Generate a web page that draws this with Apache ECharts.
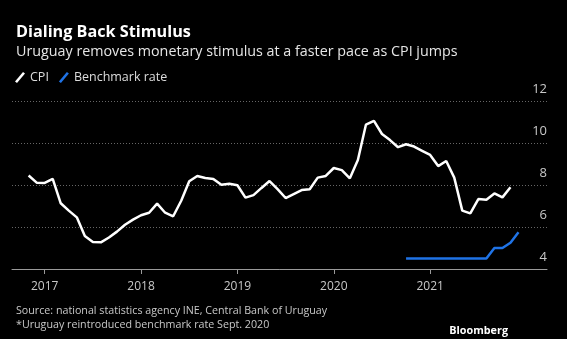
<!DOCTYPE html>
<html>
<head>
<meta charset="utf-8">
<script src="https://cdn.jsdelivr.net/npm/echarts@6/dist/echarts.min.js"></script>
<style>
  html, body { margin: 0; padding: 0; background: #000; }
  #chart { width: 567px; height: 339px; }
</style>
</head>
<body>
<div id="chart"></div>
<script>
// Monthly year-over-year CPI, Oct 2016 – Oct 2021 (%)
const cpiMonths = [
  '2016-10','2016-11','2016-12',
  '2017-01','2017-02','2017-03','2017-04','2017-05','2017-06','2017-07','2017-08','2017-09','2017-10','2017-11','2017-12',
  '2018-01','2018-02','2018-03','2018-04','2018-05','2018-06','2018-07','2018-08','2018-09','2018-10','2018-11','2018-12',
  '2019-01','2019-02','2019-03','2019-04','2019-05','2019-06','2019-07','2019-08','2019-09','2019-10','2019-11','2019-12',
  '2020-01','2020-02','2020-03','2020-04','2020-05','2020-06','2020-07','2020-08','2020-09','2020-10','2020-11','2020-12',
  '2021-01','2021-02','2021-03','2021-04','2021-05','2021-06','2021-07','2021-08','2021-09','2021-10'
];
const cpiValues = [
  8.45, 8.11, 8.10,
  8.29, 7.13, 6.78, 6.46, 5.57, 5.29, 5.27, 5.50, 5.78, 6.11, 6.35, 6.56,
  6.68, 7.11, 6.68, 6.51, 7.25, 8.18, 8.43, 8.33, 8.29, 8.01, 8.06, 7.99,
  7.40, 7.52, 7.86, 8.19, 7.80, 7.38, 7.57, 7.76, 7.80, 8.35, 8.43, 8.81,
  8.71, 8.32, 9.19, 10.87, 11.05, 10.43, 10.14, 9.80, 9.94, 9.83, 9.63, 9.43,
  8.90, 9.14, 8.35, 6.78, 6.65, 7.33, 7.30, 7.60, 7.41, 7.89
];

// Central bank benchmark rate since its reintroduction (%)
const rateMonths = [
  '2020-09','2020-10','2020-11','2020-12',
  '2021-01','2021-02','2021-03','2021-04','2021-05','2021-06','2021-07','2021-08','2021-09','2021-10','2021-11'
];
const rateValues = [
  4.5, 4.5, 4.5, 4.5,
  4.5, 4.5, 4.5, 4.5, 4.5, 4.5, 4.5, 5.0, 5.0, 5.25, 5.75
];

// Axis ticks
const yearTicks = [2017, 2018, 2019, 2020, 2021];
const yMin = 4, yMax = 12, yStep = 2;

// The x axis counts months from the start of 2017;
// each monthly reading sits at the end of its month.
const BASE_YEAR = 2017;
function monthEnd(ym) {
  const [y, m] = ym.split('-').map(Number);
  return (y - BASE_YEAR) * 12 + m;
}
const pair = (months, values) => months.map((m, i) => [monthEnd(m), values[i]]);
const yearStarts = yearTicks.map(y => (y - BASE_YEAR) * 12);

const slash = 'path://M8,0 L10,1.6 L2,11 L0,9.4 Z';
const font = '"Open Sans", "Liberation Sans", sans-serif';

const chart = echarts.init(document.getElementById('chart'), null, { renderer: 'canvas' });
chart.setOption({
  backgroundColor: '#000',
  animation: false,
  textStyle: { fontFamily: font },
  title: [
    {
      text: 'Dialing Back Stimulus',
      left: 11, top: 19,
      textStyle: { color: '#fff', fontSize: 16.2, fontWeight: 'bold', fontFamily: font }
    },
    {
      text: 'Uruguay removes monetary stimulus at a faster pace as CPI jumps',
      left: 11, top: 40,
      textStyle: { color: '#e6e6e6', fontSize: 14.3, fontWeight: 'normal', fontFamily: font }
    },
    {
      text: 'Source: national statistics agency INE, Central Bank of Uruguay\n*Uruguay reintroduced benchmark rate Sept. 2020',
      left: 11, top: 299,
      textStyle: { color: '#c8c8c8', fontSize: 10.7, lineHeight: 14, fontWeight: 'normal', fontFamily: font }
    },
    {
      text: 'Bloomberg',
      right: 54, top: 320,
      textStyle: { color: '#fff', fontSize: 10.8, fontWeight: 'bold', fontFamily: font }
    }
  ],
  legend: {
    left: 10, top: 66,
    itemWidth: 10, itemHeight: 11, itemGap: 10,
    icon: slash,
    textStyle: { color: '#dcdcdc', fontSize: 12.5, fontFamily: font },
    data: ['CPI', 'Benchmark rate']
  },
  grid: { left: 12, right: 20, top: 101, bottom: 70 },
  xAxis: {
    type: 'value',
    min: -4.07,
    max: 62.55,
    axisLine: { onZero: false, lineStyle: { color: '#9a9a9a', width: 1 } },
    axisTick: { show: true, length: 5, customValues: yearStarts, lineStyle: { color: '#9a9a9a' } },
    splitLine: { show: false },
    axisLabel: {
      color: '#c8c8c8', fontSize: 12, margin: 12,
      customValues: yearStarts,
      formatter: v => String(BASE_YEAR + Math.round(v / 12))
    }
  },
  yAxis: {
    type: 'value',
    position: 'right',
    min: yMin, max: yMax, interval: yStep,
    axisLine: { show: false },
    axisTick: { show: false },
    splitLine: { lineStyle: { color: '#666', type: [1, 2], width: 1 } },
    axisLabel: {
      inside: true, align: 'right', verticalAlign: 'bottom', margin: 0,
      padding: [0, 0, 5, 0],
      color: '#c8c8c8', fontSize: 13
    }
  },
  series: [
    {
      name: 'CPI',
      type: 'line',
      data: pair(cpiMonths, cpiValues),
      showSymbol: false,
      color: '#ffffff',
      lineStyle: { width: 2.5, color: '#ffffff' }
    },
    {
      name: 'Benchmark rate',
      type: 'line',
      data: pair(rateMonths, rateValues),
      showSymbol: false,
      color: '#1f73e6',
      lineStyle: { width: 2.5, color: '#1f73e6' }
    }
  ]
});
</script>
</body>
</html>
